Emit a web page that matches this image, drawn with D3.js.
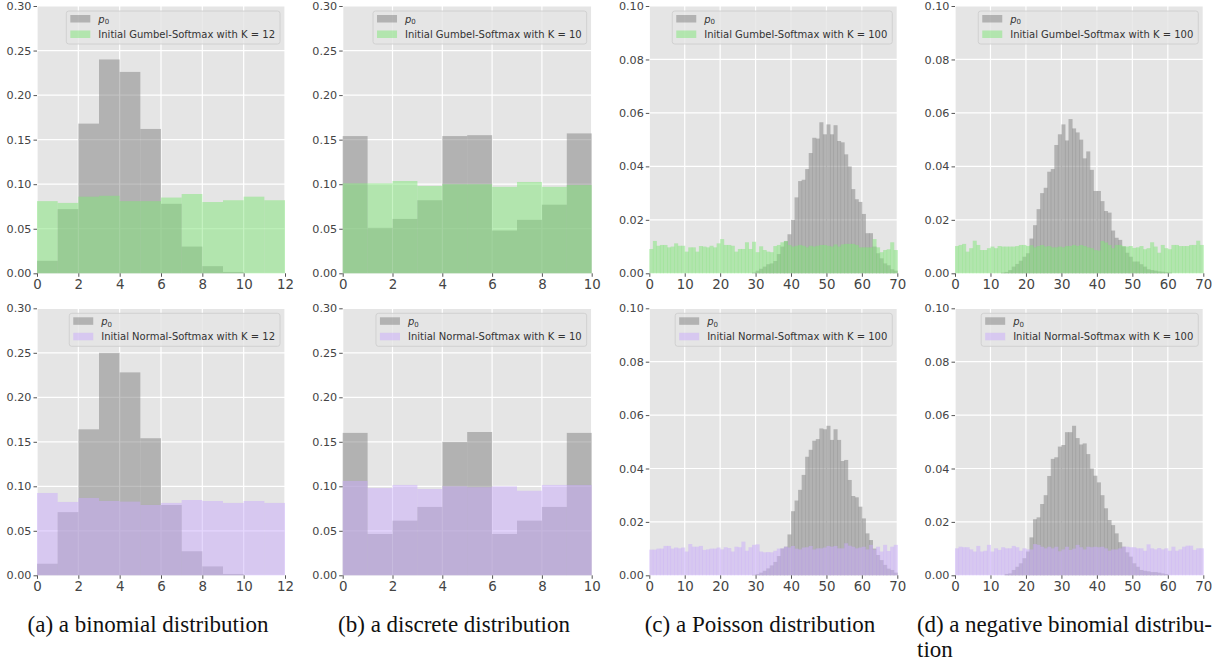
<!DOCTYPE html>
<html>
<head>
<meta charset="utf-8">
<script src="https://cdn.jsdelivr.net/npm/d3@7"></script>
<style>
  body { margin: 0; background: #fff; }
  svg { display: block; }
  .tick text { fill: #444; font-family: "DejaVu Sans", sans-serif; }
  .tick line { stroke: #555; }
</style>
</head>
<body>
<svg id="chart" width="1222" height="663"></svg>
<script>
/* ---- data ---- */
// (a) binomial, K = 12
const binomGray   = [0.014, 0.072, 0.168, 0.240, 0.226, 0.162, 0.078, 0.030, 0.008, 0.0015, 0, 0];
const binomGumbel = [0.081, 0.079, 0.086, 0.087, 0.081, 0.081, 0.085, 0.089, 0.080, 0.082, 0.086, 0.082];
const binomGray2  = [0.013, 0.071, 0.164, 0.250, 0.228, 0.154, 0.079, 0.027, 0.010, 0.0015, 0, 0];
const binomNormal = [0.0925, 0.0824, 0.0869, 0.0835, 0.0828, 0.079, 0.0813, 0.0846, 0.0835, 0.0813, 0.0835, 0.0813];

// (b) discrete, K = 10
const discGray   = [0.154, 0.051, 0.061, 0.082, 0.154, 0.155, 0.048, 0.060, 0.077, 0.157];
const discGumbel = [0.101, 0.101, 0.1036, 0.098, 0.100, 0.100, 0.097, 0.1025, 0.097, 0.099];
const discGray2  = [0.160, 0.0464, 0.0614, 0.0768, 0.150, 0.161, 0.0464, 0.0614, 0.0768, 0.160];
const discNormal = [0.106, 0.098, 0.1015, 0.097, 0.100, 0.099, 0.100, 0.095, 0.1015, 0.1015];

// (c) Poisson, K = 100 (bins 0..69)
const poisGray = [0,0,0,0,0,0,0,0,0,0, 0,0,0,0,0,0,0,0,0,0, 0,0,0,0,0,0,0,0,0,0.0003,
  0.0010,0.0017,0.0025,0.0034,0.0037,0.0046,0.0072,0.0100,0.0120,0.0146,
  0.0200,0.0284,0.0345,0.0350,0.0390,0.0450,0.0507,0.0504,0.0565,0.0520,
  0.0557,0.0520,0.0554,0.0495,0.0490,0.0445,0.0400,0.0315,0.0277,0.0267,
  0.0222,0.0150,0.0150,0.0100,0.0075,0.0056,0.0037,0.0030,0.0015,0.0010];
const poisGumbel = [0.0091,0.0121,0.0103,0.0106,0.0106,0.0097,0.0100,0.0112,0.0103,0.0103,
  0.0081,0.0097,0.0097,0.0081,0.0102,0.0100,0.0097,0.0103,0.0097,0.0112,
  0.0128,0.0106,0.0106,0.0103,0.0081,0.0091,0.0091,0.0116,0.0091,0.0118,
  0.0079,0.0101,0.0087,0.0081,0.0079,0.0102,0.0106,0.0116,0.0121,0.0106,
  0.0100,0.0103,0.0106,0.0103,0.0097,0.0103,0.0100,0.0103,0.0106,0.0106,
  0.0103,0.0100,0.0108,0.0100,0.0108,0.0110,0.0110,0.0110,0.0106,0.0097,
  0.0097,0.0097,0.0097,0.0128,0.0097,0.0079,0.0087,0.0090,0.0116,0.0087];
const poisGray2 = [0,0,0,0,0,0,0,0,0,0, 0,0,0,0,0,0,0,0,0,0, 0,0,0,0,0,0,0,0,0,0.0002,
  0.0005,0.0010,0.0017,0.0026,0.0037,0.0050,0.0072,0.0100,0.0107,0.0153,
  0.0240,0.0280,0.0320,0.0376,0.0444,0.0470,0.0504,0.0510,0.0550,0.0547,
  0.0560,0.0507,0.0547,0.0507,0.0428,0.0432,0.0357,0.0297,0.0292,0.0257,
  0.0213,0.0157,0.0132,0.0100,0.0076,0.0057,0.0039,0.0025,0.0020,0.0010];
const poisNormal = [0.0096,0.0096,0.0100,0.0100,0.0110,0.0110,0.0100,0.0104,0.0101,0.0104,
  0.0089,0.0117,0.0107,0.0107,0.0110,0.0095,0.0097,0.0100,0.0100,0.0104,
  0.0097,0.0105,0.0102,0.0089,0.0107,0.0105,0.0126,0.0092,0.0105,0.0114,
  0.0116,0.0089,0.0086,0.0087,0.0086,0.0092,0.0100,0.0101,0.0107,0.0104,
  0.0110,0.0100,0.0097,0.0104,0.0105,0.0110,0.0097,0.0101,0.0101,0.0104,
  0.0110,0.0107,0.0110,0.0101,0.0101,0.0120,0.0111,0.0107,0.0101,0.0104,
  0.0107,0.0097,0.0114,0.0097,0.0107,0.0089,0.0114,0.0091,0.0107,0.0114];

// (d) negative binomial, K = 100 (bins 0..69)
const nbGray = [0,0,0,0,0,0,0,0,0,0, 0,0,0,0.0003,0.0005,0.0012,0.0025,0.0035,0.0047,0.0062,
  0.0075,0.0130,0.0180,0.0240,0.0300,0.0320,0.0380,0.0390,0.0480,0.0520,
  0.0557,0.0497,0.0577,0.0542,0.0527,0.0500,0.0430,0.0456,0.0387,0.0308,
  0.0308,0.0270,0.0233,0.0227,0.0160,0.0133,0.0125,0.0100,0.0077,0.0062,
  0.0044,0.0044,0.0034,0.0025,0.0015,0.0012,0.0010,0.0007,0.0006,0.0004,
  0.0003,0,0,0,0,0,0,0,0,0];
const nbGumbel = [0.0102,0.0106,0.0110,0.0081,0.0094,0.0122,0.0106,0.0087,0.0087,0.0094,
  0.0100,0.0094,0.0102,0.0100,0.0100,0.0100,0.0100,0.0102,0.0106,0.0106,
  0.0102,0.0105,0.0097,0.0102,0.0106,0.0100,0.0102,0.0097,0.0097,0.0100,
  0.0097,0.0102,0.0102,0.0106,0.0102,0.0106,0.0102,0.0097,0.0094,0.0087,
  0.0085,0.0121,0.0115,0.0106,0.0094,0.0106,0.0106,0.0102,0.0100,0.0102,
  0.0095,0.0097,0.0102,0.0090,0.0094,0.0116,0.0100,0.0077,0.0106,0.0094,
  0.0090,0.0106,0.0106,0.0102,0.0102,0.0102,0.0106,0.0106,0.0122,0.0106];
const nbGray2 = [0,0,0,0,0,0,0,0,0,0, 0,0,0,0,0.0005,0.0007,0.0020,0.0032,0.0045,0.0064,
  0.0089,0.0142,0.0210,0.0217,0.0267,0.0300,0.0372,0.0436,0.0442,0.0482,
  0.0488,0.0536,0.0536,0.0560,0.0514,0.0490,0.0494,0.0454,0.0400,0.0373,
  0.0348,0.0300,0.0251,0.0207,0.0188,0.0157,0.0124,0.0107,0.0086,0.0070,
  0.0045,0.0032,0.0020,0.0017,0.0015,0.0012,0.0012,0.0010,0.0007,0.0005,
  0,0,0,0,0,0,0,0,0,0];
const nbNormal = [0.0101,0.0107,0.0105,0.0105,0.0097,0.0089,0.0110,0.0089,0.0092,0.0114,
  0.0089,0.0101,0.0095,0.0105,0.0101,0.0101,0.0110,0.0105,0.0092,0.0101,
  0.0097,0.0097,0.0117,0.0114,0.0107,0.0101,0.0107,0.0101,0.0107,0.0090,
  0.0097,0.0107,0.0095,0.0100,0.0114,0.0105,0.0097,0.0107,0.0105,0.0107,
  0.0105,0.0107,0.0101,0.0092,0.0097,0.0097,0.0101,0.0107,0.0107,0.0105,
  0.0105,0.0101,0.0101,0.0092,0.0116,0.0101,0.0097,0.0102,0.0097,0.0101,
  0.0092,0.0107,0.0092,0.0097,0.0107,0.0111,0.0111,0.0095,0.0101,0.0101];

// axes
const xMaxes = [12, 10, 70, 70];
const yMaxes = [0.30, 0.30, 0.10, 0.10];
const xTicksList = [[0, 2, 4, 6, 8, 10, 12], [0, 2, 4, 6, 8, 10], [0, 10, 20, 30, 40, 50, 60, 70], [0, 10, 20, 30, 40, 50, 60, 70]];
const yTicksList = [[0, 0.05, 0.10, 0.15, 0.20, 0.25, 0.30], [0, 0.05, 0.10, 0.15, 0.20, 0.25, 0.30],
                    [0, 0.02, 0.04, 0.06, 0.08, 0.10], [0, 0.02, 0.04, 0.06, 0.08, 0.10]];
const kValues = [12, 10, 100, 100];
const methodNames = ["Gumbel-Softmax", "Normal-Softmax"];
const captions = ["(a) a binomial distribution", "(b) a discrete distribution", "(c) a Poisson distribution"];
const captionD = ["(d) a negative binomial distribu-", "tion"];

const grayRows = [[binomGray, discGray, poisGray, nbGray], [binomGray2, discGray2, poisGray2, nbGray2]];
const colorRows = [[binomGumbel, discGumbel, poisGumbel, nbGumbel], [binomNormal, discNormal, poisNormal, nbNormal]];

/* ---- layout ---- */
const colX = [[37, 285], [342.7, 591.7], [649.3, 897.3], [955, 1203.3]];
const rowY = [[6, 273.3], [308.3, 575.3]];
const bgColor = "#E5E5E5";
const grayColor = "#808080";
const rowColors = ["rgb(127,229,119)", "rgb(201,171,251)"];
const barOpacity = 0.5;

const svg = d3.select("#chart");

function drawPanel(row, col) {
  const [x0, x1] = colX[col];
  const [y0, y1] = rowY[row];
  const x = d3.scaleLinear().domain([0, xMaxes[col]]).range([x0, x1]);
  const y = d3.scaleLinear().domain([0, yMaxes[col]]).range([y1, y0]);
  const g = svg.append("g").attr("class", "panel");

  g.append("rect")
    .attr("x", x0).attr("y", y0)
    .attr("width", x1 - x0).attr("height", y1 - y0)
    .attr("fill", bgColor);

  // grid below the bars
  g.append("g").selectAll("line").data(xTicksList[col]).join("line")
    .attr("x1", d => x(d)).attr("x2", d => x(d))
    .attr("y1", y0).attr("y2", y1)
    .attr("stroke", "#fff").attr("stroke-width", 1.2);
  g.append("g").selectAll("line").data(yTicksList[col]).join("line")
    .attr("x1", x0).attr("x2", x1)
    .attr("y1", d => y(d)).attr("y2", d => y(d))
    .attr("stroke", "#fff").attr("stroke-width", 1.2);

  const narrow = xMaxes[col] > 20;
  const overlap = narrow ? 0.5 : 0;   // neighbouring bins overlap a hair, like antialiased hist edges

  function bars(values, color) {
    g.append("g").selectAll("rect").data(values).join("rect")
      .attr("x", (d, i) => x(i))
      .attr("width", (d, i) => x(i + 1) - x(i) + overlap)
      .attr("y", d => y(d))
      .attr("height", d => y(0) - y(d))
      .attr("fill", color)
      .attr("fill-opacity", barOpacity);
  }
  bars(grayRows[row][col], grayColor);
  bars(colorRows[row][col], rowColors[row]);

  // axes
  const yAxis = d3.axisLeft(y).tickValues(yTicksList[col]).tickFormat(d3.format(".2f"))
    .tickSize(3.5).tickPadding(2);
  const ya = g.append("g").attr("transform", `translate(${x0},0)`).call(yAxis);
  ya.select(".domain").remove();
  ya.selectAll("text").attr("font-size", 11.2);

  const xAxis = d3.axisBottom(x).tickValues(xTicksList[col]).tickFormat(d3.format("d"))
    .tickSize(3.5).tickPadding(2.3);
  const xa = g.append("g").attr("transform", `translate(0,${y1})`).call(xAxis);
  xa.select(".domain").remove();
  xa.selectAll("text").attr("font-size", 13.4);

  // legend, upper right
  const lg = g.append("g");
  const box = lg.append("rect");
  const fs = 10;
  const label = `Initial ${methodNames[row]} with K = ${kValues[col]}`;
  const t2 = lg.append("text")
    .attr("font-family", "DejaVu Sans, sans-serif").attr("font-size", fs)
    .attr("fill", "#333").text(label);
  const textW = t2.node().getComputedTextLength();
  const boxW = 4 + 20 + 8 + textW + 5;
  const boxH = 33;
  const bx = x1 - 5 - boxW;
  const by = y0 + 5;
  box.attr("x", bx).attr("y", by).attr("width", boxW).attr("height", boxH)
    .attr("rx", 2.5)
    .attr("fill", bgColor).attr("fill-opacity", 0.8)
    .attr("stroke", "#cccccc").attr("stroke-width", 0.8);

  const r1 = by + 8, r2 = by + 23.5;
  lg.append("rect").attr("x", bx + 4).attr("y", r1 - 4).attr("width", 20).attr("height", 7.5)
    .attr("fill", grayColor).attr("fill-opacity", barOpacity);
  lg.append("rect").attr("x", bx + 4).attr("y", r2 - 4).attr("width", 20).attr("height", 7.5)
    .attr("fill", rowColors[row]).attr("fill-opacity", barOpacity);

  const t1 = lg.append("text")
    .attr("x", bx + 32).attr("y", r1 + 3.6)
    .attr("font-family", "DejaVu Sans, sans-serif").attr("font-size", fs)
    .attr("fill", "#333");
  t1.append("tspan").attr("font-style", "italic").text("p");
  t1.append("tspan").attr("font-size", 7).attr("dy", 1.8).text("0");
  t2.attr("x", bx + 32).attr("y", r2 + 3.6);
}

for (let r = 0; r < 2; r++) {
  for (let c = 0; c < 4; c++) drawPanel(r, c);
}

/* ---- sub-captions ---- */
const capFont = "Liberation Serif, Times New Roman, serif";
const capSize = 23;
const capCenters = [148, 454, 760];
svg.append("g").selectAll("text").data(captions).join("text")
  .attr("x", (d, i) => capCenters[i]).attr("y", 632)
  .attr("text-anchor", "middle")
  .attr("font-family", capFont).attr("font-size", capSize)
  .attr("fill", "#111")
  .text(d => d);

svg.append("g").selectAll("text").data(captionD).join("text")
  .attr("x", 917).attr("y", (d, i) => 632 + i * 24.5)
  .attr("font-family", capFont).attr("font-size", capSize)
  .attr("fill", "#111")
  .each(function (d, i) {
    const t = d3.select(this).text(d);
    if (i === 0) t.attr("textLength", 295).attr("lengthAdjust", "spacing");
  });
</script>
</body>
</html>
